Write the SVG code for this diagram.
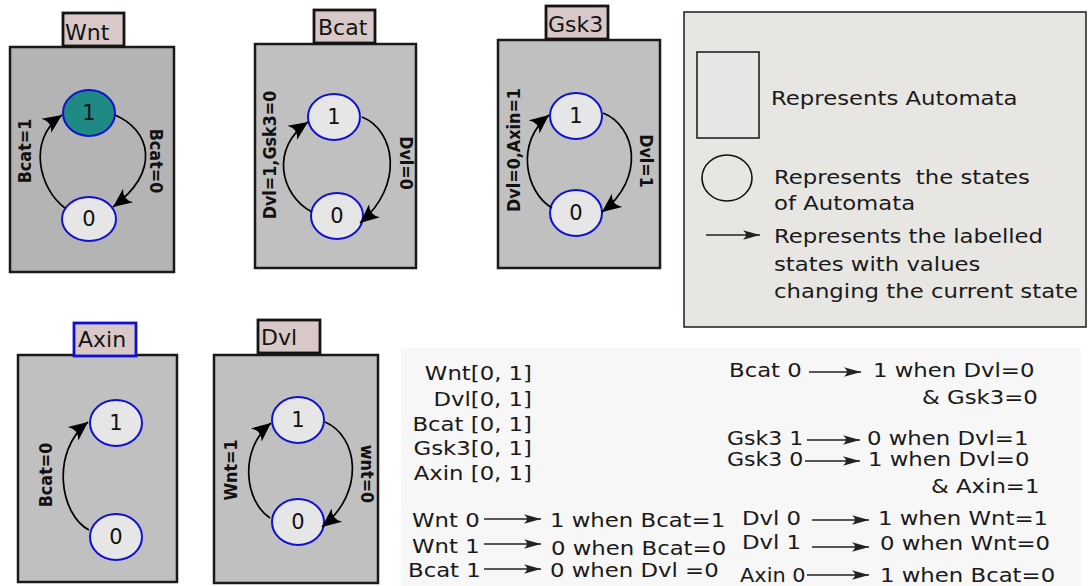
<svg xmlns="http://www.w3.org/2000/svg" width="1088" height="586" viewBox="0 0 1088 586">
  <style>
    .auto { fill: #c0c0c0; stroke: #1a1a1a; stroke-width: 2.5; }
    .tag { fill: #d8c9c8; stroke: #141414; stroke-width: 2.8; }
    .tag-blue { fill: #d8c9c8; stroke: #1010d0; stroke-width: 2.8; }
    .state { fill: #e6e6e6; stroke: #1010d0; stroke-width: 2; }
    .state-on { fill: #1f8a84; stroke: #1010d0; stroke-width: 2; }
    .edge { fill: none; stroke: #000; stroke-width: 1.7; }
    .thin { fill: none; stroke: #222; stroke-width: 1.3; }
    .txt { font-family: "DejaVu Sans", Verdana, sans-serif; font-size: 19px; fill: #1a1a1a; white-space: pre; }
    .tagtxt { font-family: "DejaVu Sans", Verdana, sans-serif; font-size: 22px; fill: #141414; }
    .num { font-family: "DejaVu Sans", Verdana, sans-serif; font-size: 21px; fill: #111; text-anchor: middle; }
    .cond { font-family: "DejaVu Sans", Verdana, sans-serif; font-size: 16px; font-weight: bold; fill: #111; text-anchor: middle; }
  </style>
  <defs>
    <marker id="head" markerUnits="userSpaceOnUse" markerWidth="24" markerHeight="24" refX="0" refY="0" orient="auto" overflow="visible">
      <path d="M0,0 L-19,-8.5 Q-12,0 -19,8.5 Z" fill="#000"/>
    </marker>
    <marker id="head-sm" markerUnits="userSpaceOnUse" markerWidth="20" markerHeight="20" refX="0" refY="0" orient="auto" overflow="visible">
      <path d="M0,0 L-17,-4.8 Q-11,0 -17,4.8 Z" fill="#222"/>
    </marker>
  </defs>

  <!-- background -->
  <rect x="0" y="0" width="1088" height="586" fill="#ffffff"/>

  <!-- Wnt automaton -->
  <g id="wnt">
    <rect class="auto" x="10" y="47" width="164" height="225" style="fill:#b4b4b4"/>
    <rect class="tag" x="63" y="13" width="61" height="33"/>
    <text class="tagtxt" x="65" y="40">Wnt</text>
    <ellipse class="state-on" cx="89" cy="113" rx="26" ry="23"/>
    <text class="num" x="89" y="120">1</text>
    <ellipse class="state" cx="89" cy="219" rx="27" ry="22"/>
    <text class="num" x="89" y="226">0</text>
  </g>

  <!-- Bcat automaton -->
  <g id="bcat">
    <rect class="auto" x="255" y="44" width="161" height="224"/>
    <rect class="tag" x="314" y="10" width="61" height="33"/>
    <text class="tagtxt" x="318" y="35">Bcat</text>
    <ellipse class="state" cx="334" cy="117" rx="26" ry="23"/>
    <text class="num" x="334" y="124">1</text>
    <ellipse class="state" cx="337" cy="216" rx="26" ry="23"/>
    <text class="num" x="337" y="223">0</text>
  </g>

  <!-- Gsk3 automaton -->
  <g id="gsk3">
    <rect class="auto" x="498" y="40" width="162" height="228"/>
    <rect class="tag" x="546" y="6" width="62" height="33"/>
    <text class="tagtxt" x="548" y="32">Gsk3</text>
    <ellipse class="state" cx="576" cy="116" rx="26" ry="23"/>
    <text class="num" x="576" y="123">1</text>
    <ellipse class="state" cx="576" cy="213" rx="26" ry="23"/>
    <text class="num" x="576" y="220">0</text>
  </g>

  <!-- Axin automaton -->
  <g id="axin">
    <rect class="auto" x="18" y="355" width="159" height="227"/>
    <rect class="tag-blue" x="74" y="323" width="62" height="33"/>
    <text class="tagtxt" x="78" y="347">Axin</text>
    <ellipse class="state" cx="116" cy="423" rx="26" ry="23"/>
    <text class="num" x="116" y="430">1</text>
    <ellipse class="state" cx="116" cy="537" rx="26" ry="23"/>
    <text class="num" x="116" y="544">0</text>
  </g>

  <!-- Dvl automaton -->
  <g id="dvl">
    <rect class="auto" x="214" y="355" width="164" height="228"/>
    <rect class="tag" x="258" y="320" width="62" height="33"/>
    <text class="tagtxt" x="261" y="345">Dvl</text>
    <ellipse class="state" cx="298" cy="420" rx="26" ry="23"/>
    <text class="num" x="298" y="427">1</text>
    <ellipse class="state" cx="298" cy="522" rx="26" ry="23"/>
    <text class="num" x="298" y="529">0</text>
  </g>

  <!-- transitions between states -->
  <g id="connectors">
    <path class="edge" d="M65,208 C40,190 26,140 62,115" marker-end="url(#head)"/>
    <path class="edge" d="M115,115 C150,130 162,170 113,207" marker-end="url(#head)"/>
    <path class="edge" d="M312,212 C280,195 270,148 308,122" marker-end="url(#head)"/>
    <path class="edge" d="M362,117 C395,130 405,185 360,223" marker-end="url(#head)"/>
    <path class="edge" d="M552,208 C525,192 515,142 549,115" marker-end="url(#head)"/>
    <path class="edge" d="M603,113 C636,126 646,178 602,212" marker-end="url(#head)"/>
    <path class="edge" d="M89,530 C60,515 50,452 88,422" marker-end="url(#head)"/>
    <path class="edge" d="M270,518 C245,502 238,450 271,423" marker-end="url(#head)"/>
    <path class="edge" d="M325,422 C358,436 366,492 322,527" marker-end="url(#head)"/>
  </g>

  <!-- transition conditions -->
  <g id="conditions">
    <text class="cond" transform="translate(31,151) scale(1.15,1) rotate(-90)">Bcat=1</text>
    <text class="cond" transform="translate(150,161) scale(1.15,1) rotate(90)">Bcat=0</text>
    <text class="cond" transform="translate(276,155) scale(1.15,1) rotate(-90)">Dvl=1,Gsk3=0</text>
    <text class="cond" transform="translate(400,163) scale(1.15,1) rotate(90)">Dvl=0</text>
    <text class="cond" transform="translate(520,150) scale(1.15,1) rotate(-90)">Dvl=0,Axin=1</text>
    <text class="cond" transform="translate(640,161) scale(1.15,1) rotate(90)">Dvl=1</text>
    <text class="cond" transform="translate(52,475) scale(1.15,1) rotate(-90)">Bcat=0</text>
    <text class="cond" transform="translate(237,470) scale(1.15,1) rotate(-90)">Wnt=1</text>
    <text class="cond" transform="translate(361,474) scale(1.15,1) rotate(90)">wnt=0</text>
  </g>

  <!-- legend -->
  <g id="legend">
    <rect x="684" y="12" width="402" height="315" fill="#e7e6e2" stroke="#2a2a2a" stroke-width="1.6"/>
    <rect x="697" y="52" width="62" height="86" fill="#e6e6e4" stroke="#222" stroke-width="1.6"/>
    <ellipse cx="727" cy="178" rx="25" ry="23" fill="none" stroke="#111" stroke-width="1.6"/>
    <line class="thin" x1="706" y1="235" x2="760" y2="235" marker-end="url(#head-sm)"/>
    <text class="txt" transform="translate(771,105) scale(1.2,1)">Represents Automata</text>
    <text class="txt" transform="translate(774,184) scale(1.2,1)">Represents  the states</text>
    <text class="txt" transform="translate(774,210) scale(1.2,1)">of Automata</text>
    <text class="txt" transform="translate(774,243) scale(1.2,1)">Represents the labelled</text>
    <text class="txt" transform="translate(774,271) scale(1.2,1)">states with values</text>
    <text class="txt" transform="translate(774,298) scale(1.2,1)">changing the current state</text>
  </g>

  <!-- value ranges and update rules -->
  <g id="rules">
    <rect x="401" y="348" width="680" height="238" fill="#f7f7f7"/>
    <g style="text-anchor:end">
      <text class="txt" transform="translate(532,380) scale(1.2,1)">Wnt[0, 1]</text>
      <text class="txt" transform="translate(532,406) scale(1.2,1)">Dvl[0, 1]</text>
      <text class="txt" transform="translate(532,431) scale(1.2,1)">Bcat [0, 1]</text>
      <text class="txt" transform="translate(532,455) scale(1.2,1)">Gsk3[0, 1]</text>
      <text class="txt" transform="translate(532,480) scale(1.2,1)">Axin [0, 1]</text>
    </g>

    <text class="txt" transform="translate(412,527) scale(1.2,1)">Wnt 0</text>
    <line class="thin" x1="484" y1="519" x2="541" y2="519" marker-end="url(#head-sm)"/>
    <text class="txt" transform="translate(550,527) scale(1.2,1)">1 when Bcat=1</text>

    <text class="txt" transform="translate(412,553) scale(1.2,1)">Wnt 1</text>
    <line class="thin" x1="484" y1="544" x2="541" y2="544" marker-end="url(#head-sm)"/>
    <text class="txt" transform="translate(551,555) scale(1.2,1)">0 when Bcat=0</text>

    <text class="txt" transform="translate(408,577) scale(1.2,1)">Bcat 1</text>
    <line class="thin" x1="484" y1="569" x2="541" y2="569" marker-end="url(#head-sm)"/>
    <text class="txt" transform="translate(550,577) scale(1.2,1)">0 when Dvl =0</text>

    <text class="txt" transform="translate(729,377) scale(1.2,1)">Bcat 0</text>
    <line class="thin" x1="809" y1="372" x2="861" y2="372" marker-end="url(#head-sm)"/>
    <text class="txt" transform="translate(873,377) scale(1.2,1)">1 when Dvl=0</text>
    <text class="txt" transform="translate(922,404) scale(1.2,1)">&amp; Gsk3=0</text>

    <text class="txt" transform="translate(727,445) scale(1.16,1)">Gsk3 1</text>
    <line class="thin" x1="807" y1="440" x2="860" y2="440" marker-end="url(#head-sm)"/>
    <text class="txt" transform="translate(867,445) scale(1.2,1)">0 when Dvl=1</text>

    <text class="txt" transform="translate(727,466) scale(1.16,1)">Gsk3 0</text>
    <line class="thin" x1="805" y1="461" x2="860" y2="461" marker-end="url(#head-sm)"/>
    <text class="txt" transform="translate(868,466) scale(1.2,1)">1 when Dvl=0</text>
    <text class="txt" transform="translate(931,493) scale(1.2,1)">&amp; Axin=1</text>

    <text class="txt" transform="translate(742,525) scale(1.2,1)">Dvl 0</text>
    <line class="thin" x1="812" y1="520" x2="869" y2="520" marker-end="url(#head-sm)"/>
    <text class="txt" transform="translate(878,525) scale(1.2,1)">1 when Wnt=1</text>

    <text class="txt" transform="translate(740,582) scale(1.1,1)">Axin 0</text>
    <line class="thin" x1="807" y1="575" x2="869" y2="575" marker-end="url(#head-sm)"/>
    <text class="txt" transform="translate(880,582) scale(1.2,1)">1 when Bcat=0</text>

    <text class="txt" transform="translate(742,549) scale(1.2,1)">Dvl 1</text>
    <line class="thin" x1="812" y1="547" x2="869" y2="547" marker-end="url(#head-sm)"/>
    <text class="txt" transform="translate(880,550) scale(1.2,1)">0 when Wnt=0</text>
  </g>
</svg>
